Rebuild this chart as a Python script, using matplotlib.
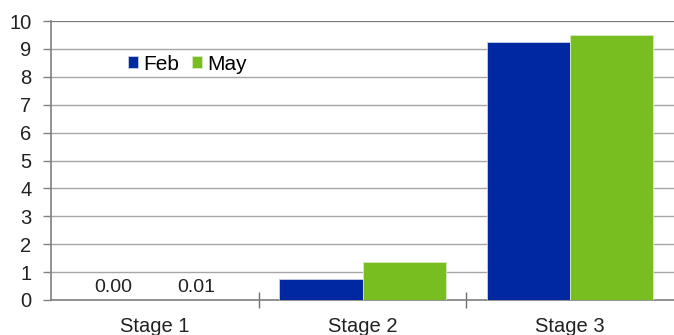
import matplotlib
matplotlib.use("Agg")
import matplotlib.pyplot as plt
import numpy as np

plt.rcParams['font.family'] = ['Liberation Sans', 'DejaVu Sans']

stages = ['Stage 1', 'Stage 2', 'Stage 3']
feb = [0.00, 0.75, 9.25]
may = [0.01, 1.36, 9.50]
series_names = ['Feb', 'May']
blue = '#0028A0'
green = '#79BE21'

fig = plt.figure(figsize=(6.74, 3.35), dpi=100)
ax = fig.add_axes([0.0757, 0.1045, 0.9243, 0.8325])

x = np.arange(len(stages))
w = 0.4
b1 = ax.bar(x - w / 2, feb, w, color=blue, edgecolor='#c8d0e8', linewidth=0.6,
            label=series_names[0], zorder=3)
b2 = ax.bar(x + w / 2, may, w, color=green, edgecolor='#d8ecc0', linewidth=0.6,
            label=series_names[1], zorder=3)

# value labels only on the first group
for bars, vals in ((b1, feb), (b2, may)):
    bar = bars[0]
    ax.annotate(f'{vals[0]:.2f}', (bar.get_x() + bar.get_width() / 2, vals[0]),
                xytext=(0, 3), textcoords='offset points', ha='center',
                va='bottom', fontsize=14, color='#222222')

ax.set_xlim(-0.5, 2.5)
ax.set_ylim(0, 10)
ax.set_yticks(range(0, 11))
ax.yaxis.grid(True, color='#a6a6a6', linewidth=1.0, zorder=0)
ax.axhline(10, color='#6e6e6e', linewidth=1.2, zorder=1)
ax.set_axisbelow(True)

ax.set_xticks(x)
ax.set_xticklabels(stages)
ax.set_xticks([0.5, 1.5], minor=True)
ax.tick_params(axis='x', which='major', length=0, pad=12, labelsize=14.5,
               labelcolor='#222222')
ax.tick_params(axis='x', which='minor', length=12, direction='inout',
               color='#707070', width=1)
ax.tick_params(axis='y', length=6, color='#808080', width=1, labelsize=14.5,
               labelcolor='#222222', pad=8)

for side in ('top', 'right'):
    ax.spines[side].set_visible(False)
for side in ('left', 'bottom'):
    ax.spines[side].set_color('#808080')
    ax.spines[side].set_linewidth(1.2)

ax.legend(loc='center left', bbox_to_anchor=(0.1236, 0.846), ncol=2,
          frameon=False, fontsize=15, handlelength=0.48, handleheight=0.48,
          handletextpad=0.24, columnspacing=0.62, borderaxespad=0, borderpad=0)

fig.savefig('out.png', dpi=100)
